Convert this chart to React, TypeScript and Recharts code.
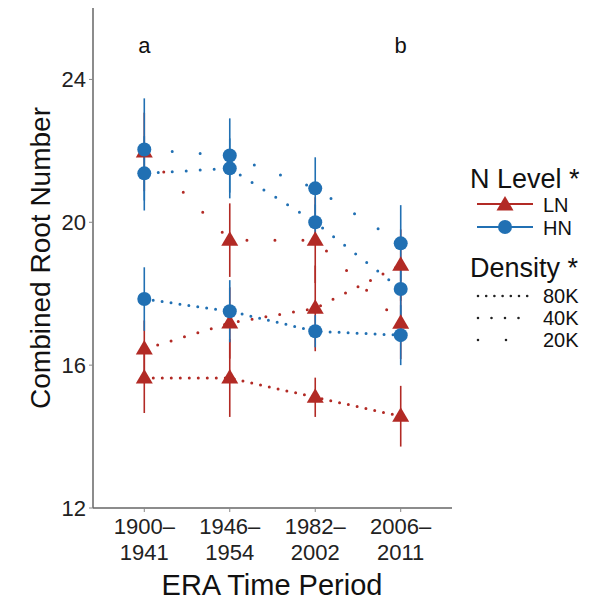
import { ComposedChart, Scatter, ErrorBar, XAxis, YAxis, ReferenceDot } from 'recharts'

const eraPos = [1, 2, 3, 4]
const eraStart = ['1900–', '1946–', '1982–', '2006–']
const eraEnd = ['1941', '1954', '2002', '2011']
const yTicks = [12, 16, 20, 24]

// LN = low nitrogen, HN = high nitrogen; 20K/40K/80K = planting density
const ln20 = [21.97, 19.5, 19.5, 17.17]
const ln20se = [1.1, 1.03, 1.2, 1.0]
const ln40 = [16.45, 17.18, 17.59, 18.8]
const ln40se = [0.8, 1.0, 1.2, 1.0]
const ln80 = [15.64, 15.64, 15.1, 14.57]
const ln80se = [0.98, 1.09, 0.55, 0.85]
const hn20 = [22.04, 21.87, 20.95, 19.41]
const hn20se = [1.43, 1.04, 0.87, 1.07]
const hn40 = [21.37, 21.51, 20.0, 18.13]
const hn40se = [1.04, 0.84, 0.5, 0.8]
const hn80 = [17.85, 17.51, 16.95, 16.84]
const hn80se = [0.89, 0.87, 0.45, 0.84]

const RED = '#B22A25'
const BLUE = '#2170B3'
const FONT = '"Liberation Sans", Arial, sans-serif'

const dash: Record<string, string> = { '20K': '0 28', '40K': '0 14', '80K': '0 9' }

const build = (vals: number[], se: number[]) =>
  vals.map((y, i) => ({ x: eraPos[i], y, se: se[i] }))

const series = [
  { key: 'ln80', n: 'LN', d: '80K', data: build(ln80, ln80se) },
  { key: 'ln40', n: 'LN', d: '40K', data: build(ln40, ln40se) },
  { key: 'ln20', n: 'LN', d: '20K', data: build(ln20, ln20se) },
  { key: 'hn80', n: 'HN', d: '80K', data: build(hn80, hn80se) },
  { key: 'hn40', n: 'HN', d: '40K', data: build(hn40, hn40se) },
  { key: 'hn20', n: 'HN', d: '20K', data: build(hn20, hn20se) },
]

const Triangle = ({ cx, cy, fill }: any) => (
  <polygon points={`${cx},${cy - 9} ${cx - 8.5},${cy + 5.5} ${cx + 8.5},${cy + 5.5}`} fill={fill} />
)
const Dot = ({ cx, cy, fill }: any) => <circle cx={cx} cy={cy} r={7} fill={fill} />

const XTick = ({ x, y, payload }: any) => {
  const i = eraPos.indexOf(payload.value)
  return (
    <text x={x} y={y} textAnchor="middle" fontSize={22} fill="#222" fontFamily={FONT}>
      <tspan x={x} dy={20}>{eraStart[i]}</tspan>
      <tspan x={x} dy={26}>{eraEnd[i]}</tspan>
    </text>
  )
}

export default function App() {
  return (
    <div style={{ position: 'absolute', left: 0, top: 0, width: 601, height: 602, background: '#fff', fontFamily: FONT }}>
      <ComposedChart width={601} height={602} margin={{ top: 8, right: 149, bottom: 44, left: 33 }}>
        <XAxis
          type="number"
          dataKey="x"
          domain={[0.4, 4.6]}
          ticks={eraPos}
          tick={<XTick />}
          height={50}
          tickSize={4}
          axisLine={{ stroke: '#666', strokeWidth: 1.5 }}
          tickLine={{ stroke: '#888' }}
          allowDataOverflow
        />
        <YAxis
          type="number"
          dataKey="y"
          domain={[12, 26]}
          ticks={yTicks}
          width={60}
          tickSize={4}
          tickMargin={3}
          tick={{ fontSize: 22, fill: '#222', fontFamily: FONT }}
          axisLine={{ stroke: '#666', strokeWidth: 1.5 }}
          tickLine={{ stroke: '#888' }}
          allowDataOverflow
        />
        {series.map(s => {
          const color = s.n === 'LN' ? RED : BLUE
          return (
            <Scatter
              key={s.key}
              data={s.data}
              dataKey="y"
              fill={color}
              isAnimationActive={false}
              shape={s.n === 'LN' ? <Triangle /> : <Dot />}
              line={{ stroke: color, strokeWidth: 3, strokeDasharray: dash[s.d], strokeLinecap: 'round' }}
            >
              <ErrorBar dataKey="se" direction="y" width={0} stroke={color} strokeWidth={1.6} isAnimationActive={false} />
            </Scatter>
          )
        })}
        <ReferenceDot x={1} y={24.95} r={0} label={{ value: 'a', position: 'center', fontSize: 22, fill: '#111', fontFamily: FONT }} />
        <ReferenceDot x={4} y={24.95} r={0} label={{ value: 'b', position: 'center', fontSize: 22, fill: '#111', fontFamily: FONT }} />
      </ComposedChart>

      <svg width={601} height={602} style={{ position: 'absolute', left: 0, top: 0, pointerEvents: 'none' }} fontFamily={FONT}>
        <text x={0} y={0} transform="translate(50,258) rotate(-90)" textAnchor="middle" fontSize={28} fill="#111">
          Combined Root Number
        </text>
        <text x={272} y={595} textAnchor="middle" fontSize={29} fill="#111">ERA Time Period</text>

        <text x={470} y={188} fontSize={27} fill="#111">N Level *</text>
        <line x1={477} x2={533} y1={204} y2={204} stroke={RED} strokeWidth={2} />
        <Triangle cx={505} cy={205} fill={RED} />
        <text x={543} y={212} fontSize={20} fill="#111">LN</text>
        <line x1={477} x2={533} y1={227} y2={227} stroke={BLUE} strokeWidth={2} />
        <Dot cx={505} cy={227} fill={BLUE} />
        <text x={543} y={235} fontSize={20} fill="#111">HN</text>

        <text x={470} y={277} fontSize={27} fill="#111">Density *</text>
        {['80K', '40K', '20K'].map((d, i) => (
          <g key={d}>
            <line x1={478} x2={528} y1={296 + i * 22} y2={296 + i * 22} stroke="#222" strokeWidth={2.6}
              strokeDasharray={d === '80K' ? '0 8.2' : d === '40K' ? '0 13.5' : '0 28'} strokeLinecap="round" />
            <text x={543} y={303 + i * 22} fontSize={20} fill="#111">{d}</text>
          </g>
        ))}
      </svg>
    </div>
  )
}
